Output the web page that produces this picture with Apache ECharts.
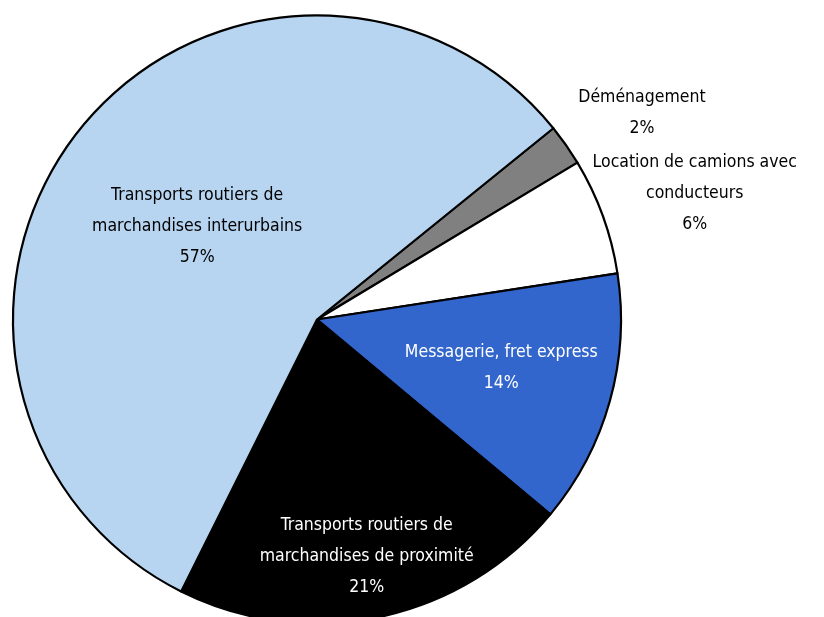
<!DOCTYPE html>
<html>
<head>
<meta charset="utf-8">
<script src="https://cdn.jsdelivr.net/npm/echarts@6/dist/echarts.min.js"></script>
<style>
html,body{margin:0;padding:0;background:#fff;}
#chart{width:824px;height:617px;}
</style>
</head>
<body>
<div id="chart"></div>
<script>
const categories = [
  "Déménagement",
  "Location de camions avec\nconducteurs",
  "Messagerie, fret express",
  "Transports routiers de\nmarchandises de proximité",
  "Transports routiers de\nmarchandises interurbains"
];
const values = [2.2, 6.2, 13.5, 21.3, 56.8];
const colors = ["#808080", "#ffffff", "#3366cc", "#000000", "#b7d5f1"];
const labelColors = ["#000000", "#000000", "#ffffff", "#ffffff", "#000000"];
const labelOffsets = [[198, -118], [232, -73], [35, 7], [18, 85], [1, 4]];

const FONT = "'DejaVu Sans Condensed', sans-serif";

const chart = echarts.init(document.getElementById('chart'), null, {renderer: 'canvas'});
chart.setOption({
  animation: false,
  series: [{
    type: 'pie',
    center: [317, 319.5],
    radius: [0, 304],
    startAngle: 38.98,
    clockwise: true,
    avoidLabelOverlap: false,
    itemStyle: {borderColor: '#000', borderWidth: 2.2},
    emphasis: {disabled: true},
    labelLine: {show: false},
    data: categories.map((c, i) => ({
      name: c,
      value: values[i],
      itemStyle: {color: colors[i]},
      label: {
        show: true,
        position: 'inside',
        offset: labelOffsets[i],
        color: labelColors[i],
        fontFamily: FONT,
        fontSize: 17.5,
        lineHeight: 31,
        align: 'center',
        formatter: () => c + "\n" + Math.round(values[i]) + "%"
      }
    }))
  }]
});
</script>
</body>
</html>
